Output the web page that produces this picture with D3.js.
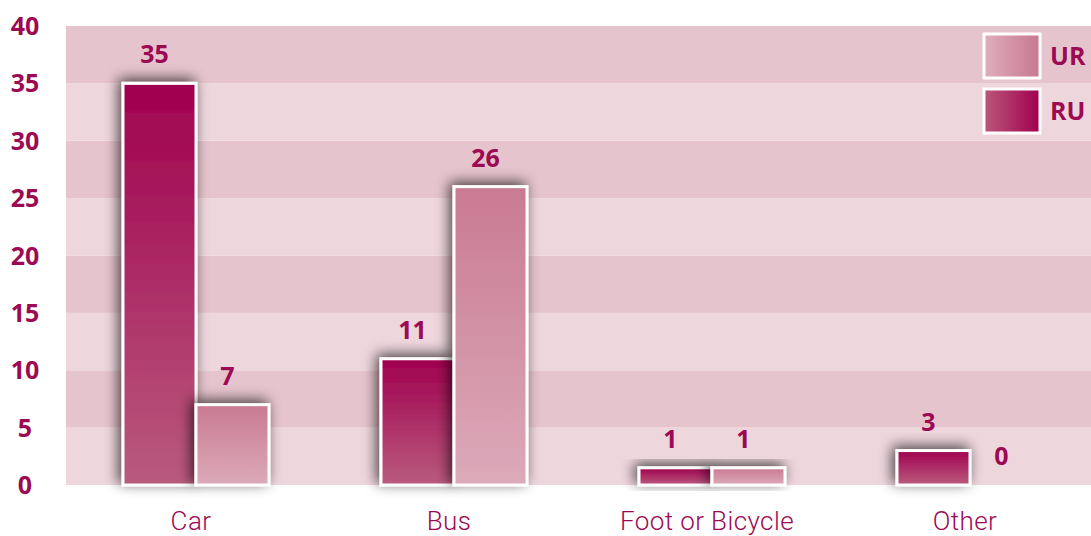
<!DOCTYPE html>
<html><head><meta charset="utf-8">
<script src="https://cdn.jsdelivr.net/npm/d3@7"></script>
<style>
html,body{margin:0;padding:0;background:#fff;overflow:hidden}
svg{display:block}
</style></head>
<body>
<script>
const categories = ["Car", "Bus", "Foot or Bicycle", "Other"];
const seriesNames = ["RU", "UR"];
const ruValues = [35, 11, 1.5, 3];
const urValues = [7, 26, 1.5, 0];
const yTicks = [0, 5, 10, 15, 20, 25, 30, 35, 40];
const legendOrder = ["UR", "RU"];

const W = 1091, H = 536;
const svg = d3.select("body").append("svg").attr("width", W).attr("height", H);
const defs = svg.append("defs");

function grad(id, x2, y2, c1, c2) {
  const g = defs.append("linearGradient").attr("id", id)
    .attr("x1", 0).attr("y1", 0).attr("x2", x2).attr("y2", y2);
  g.append("stop").attr("offset", "0%").attr("stop-color", c1);
  g.append("stop").attr("offset", "100%").attr("stop-color", c2);
}
grad("gRU", 0, 1, "#a0004f", "#b95b7d");
grad("gUR", 0, 1, "#c97a92", "#dcaaba");
grad("lUR", 1, 0, "#dfaebd", "#c8778f");
grad("lRU", 1, 0, "#bb587b", "#a0004f");

const f = defs.append("filter").attr("id", "shadow")
  .attr("x", "-50%").attr("y", "-50%").attr("width", "200%").attr("height", "200%");
f.append("feGaussianBlur").attr("in", "SourceAlpha").attr("stdDeviation", 7).attr("result", "b");
f.append("feOffset").attr("in", "b").attr("dx", -3).attr("dy", -3).attr("result", "o");
f.append("feComponentTransfer").attr("in", "o").attr("result", "o2")
  .append("feFuncA").attr("type", "linear").attr("slope", 0.7);
const m = f.append("feMerge");
m.append("feMergeNode").attr("in", "o2");
m.append("feMergeNode").attr("in", "SourceGraphic");

const y = d3.scaleLinear().domain([0, 40]).range([485, 26]);
const x0 = d3.scaleBand().domain(categories).range([67, 1099]).paddingInner(0).paddingOuter(0);
const barW = 73;

// background bands
const plotL = 66, plotR = 1091;
const bands = d3.range(0, 40, 5);
svg.append("g").selectAll("rect").data(bands).join("rect")
  .attr("x", plotL).attr("width", plotR - plotL)
  .attr("y", d => y(d + 5)).attr("height", d => y(d) - y(d + 5))
  .attr("fill", d => (d / 5) % 2 === 0 ? "#eed6dd" : "#e6c4cd");

// y axis labels
svg.append("g").selectAll("text").data(yTicks).join("text")
  .attr("x", 25).attr("y", d => y(d) + 9)
  .attr("text-anchor", "middle")
  .style("font-family", "'Open Sans', sans-serif").style("font-weight", 700)
  .style("font-size", "25px").attr("fill", "#9b0a52")
  .text(d => d);

// bars
const data = categories.map((c, i) => ({ c, RU: ruValues[i], UR: urValues[i] }));
const bars = [];
data.forEach(d => {
  const cx = x0(d.c) + x0.bandwidth() / 2;
  bars.push({ c: d.c, s: "RU", v: d.RU, x: cx - barW });
  bars.push({ c: d.c, s: "UR", v: d.UR, x: cx });
});

const bg = svg.append("g");
bars.forEach(b => {
  if (b.v > 0) {
    bg.append("rect")
      .attr("x", b.x).attr("width", barW)
      .attr("y", y(b.v)).attr("height", y(0) - y(b.v))
      .attr("fill", b.s === "RU" ? "url(#gRU)" : "url(#gUR)")
      .attr("stroke", "#fff").attr("stroke-width", 3)
      .attr("filter", "url(#shadow)");
  }
});

svg.append("g").selectAll("text").data(bars).join("text")
  .attr("x", d => d.x + barW / 2 - 5)
  .attr("y", d => y(d.v) - 20)
  .attr("text-anchor", "middle")
  .style("font-family", "'Open Sans', sans-serif").style("font-weight", 700)
  .style("font-size", "25px").attr("fill", "#9b0a52")
  .text(d => Math.floor(d.v));

// x labels
svg.append("g").selectAll("text").data(categories).join("text")
  .attr("x", d => x0(d) + x0.bandwidth() / 2 - 5)
  .attr("y", 530)
  .attr("text-anchor", "middle")
  .style("font-family", "Roboto, sans-serif").style("font-weight", 300)
  .style("font-size", "26px").style("letter-spacing", "0.4px").attr("fill", "#9b0a52")
  .text(d => d);

// legend
const lg = svg.append("g");
legendOrder.forEach((s, i) => {
  const yy = 34 + i * 55;
  lg.append("rect").attr("x", 984).attr("y", yy).attr("width", 56).attr("height", 44)
    .attr("fill", s === "UR" ? "url(#lUR)" : "url(#lRU)")
    .attr("stroke", "#fff").attr("stroke-width", 3);
  lg.append("text").attr("x", 1050).attr("y", yy + 31)
    .style("font-family", "'Open Sans', sans-serif").style("font-weight", 700)
    .style("font-size", "25px").attr("fill", "#9b0a52")
    .text(s);
});
</script>
</body></html>
